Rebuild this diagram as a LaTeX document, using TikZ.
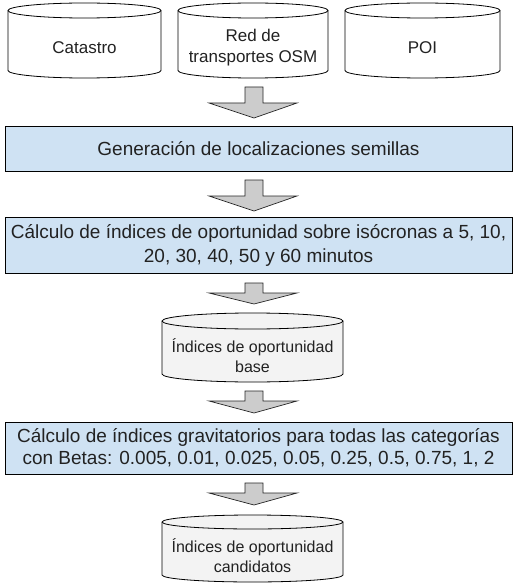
\documentclass[tikz,border=0pt]{standalone}
\usepackage{fontspec}
\setmainfont{Liberation Sans}
\definecolor{boxblue}{HTML}{CFE2F3}
\definecolor{arrowgray}{HTML}{CCCCCC}
\definecolor{cangray}{HTML}{F3F3F3}
\definecolor{txt}{HTML}{222222}
\tikzset{
  canline/.style={draw=black, line width=0.8pt},
  cantext/.style={align=center, inner sep=0pt, text=txt},
  procbox/.style={draw=black, fill=boxblue, line width=1pt, align=center, inner sep=0pt, text=txt, minimum width=507pt},
  bigarrow/.style={draw=black!85, fill=arrowgray, line width=0.7pt, line join=miter},
}
\newcommand\mycan[9]{%
  \pgfmathsetmacro\cx{(#2+#3)/2}%
  \pgfmathsetmacro\crx{(#3-#2)/2}%
  \pgfmathsetmacro\cty{(#4+2*#6+#5)/2}%
  \draw[canline, fill=#7] (#2,#4+#6) -- (#2,#5-#6)
     arc[start angle=180,end angle=360,x radius=\crx pt,y radius=#6 pt]
     -- (#3,#4+#6)
     arc[start angle=0,end angle=180,x radius=\crx pt,y radius=#6 pt] -- cycle;
  \draw[canline] (#2,#4+#6) arc[start angle=180,end angle=360,x radius=\crx pt,y radius=#6 pt];
  \node[cantext, font=#8] (#1) at (\cx,\cty) {#9};
}
\newcommand\bigarr[4]{%
  \coordinate (#1top) at (254,#2);
  \coordinate (#1tip) at (254,#4);
  \draw[bigarrow] (245,#2) -- (263,#2) -- (263,#3) -- (297,#3) -- (#1tip) -- (209,#3) -- (245,#3) -- cycle;
}
\begin{document}
\begin{tikzpicture}[x=1pt,y=-1pt]
\useasboundingbox (0,0) rectangle (517,588);
% source cylinders
\mycan{cat}{8}{161}{3}{78}{7.5}{white}{\fontsize{17}{21}\selectfont}{Catastro}
\mycan{red}{178}{328}{3}{78}{7.5}{white}{\fontsize{17}{21}\selectfont}{Red de\\transportes OSM}
\mycan{poi}{345}{500}{3}{78}{7.5}{white}{\fontsize{17}{21}\selectfont}{POI}
\bigarr{a1}{87}{103}{118}
\node[procbox, minimum height=44pt, font=\fontsize{19}{24}\selectfont] (gen) at (258.5,149) {Generación de localizaciones semillas};
\bigarr{a2}{180}{196}{211}
\node[procbox, minimum height=56pt, font=\fontsize{19}{24}\selectfont] (calc) at (258.5,245) {Cálculo de índices de oportunidad sobre isócronas a 5, 10,\\20, 30, 40, 50 y 60 minutos};
\bigarr{a3}{283}{293}{304}
\mycan{base}{162}{343}{313}{382}{8}{cangray}{\fontsize{16}{19.5}\selectfont}{Índices de oportunidad\\base}
\bigarr{a4}{391}{401}{413}
\node[procbox, minimum height=52pt, font=\fontsize{19}{22}\selectfont] (grav) at (258.5,448) {Cálculo de índices gravitatorios para todas las categorías\\con Betas: 0.005, 0.01, 0.025, 0.05, 0.25, 0.5, 0.75, 1, 2};
\bigarr{a5}{483}{493}{505}
\mycan{cand}{162}{343}{515}{582}{7}{cangray}{\fontsize{16}{19.5}\selectfont}{Índices de oportunidad\\candidatos}
\end{tikzpicture}
\end{document}
